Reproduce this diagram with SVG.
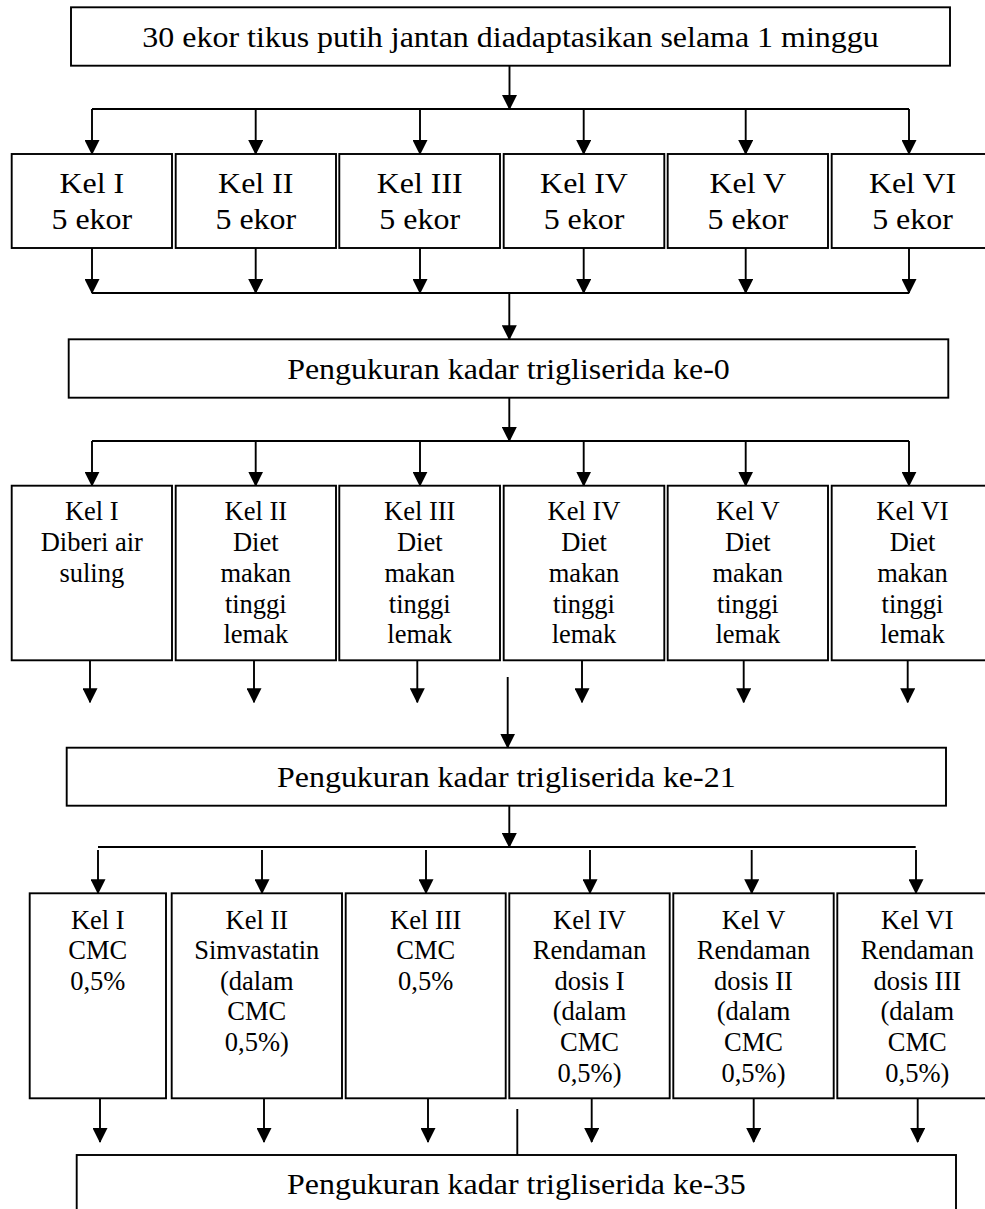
<svg xmlns="http://www.w3.org/2000/svg" width="985" height="1209" viewBox="0 0 985 1209">
<style>
.box{fill:#fff;stroke:#000;stroke-width:1.9}
.ln{fill:none;stroke:#000;stroke-width:1.9}
.ar{fill:none;stroke:#000;stroke-width:1.9;marker-end:url(#ah)}
text{font-family:"Liberation Serif","Times New Roman",serif;fill:#000;text-anchor:middle}
.t1{font-size:30px}
.t2{font-size:30px}
.t3{font-size:26.5px}
</style>
<defs>
<marker id="ah" viewBox="0 0 15 15" refX="14" refY="7.5" markerWidth="15" markerHeight="15" markerUnits="userSpaceOnUse" orient="auto">
<path d="M0,0 L15,7.5 L0,15 z" fill="#000"/>
</marker>
</defs>
<rect width="985" height="1209" fill="#fff"/>
<g id="connectors">
<line class="ar" x1="509.5" y1="66" x2="509.5" y2="109"/>
<line class="ln" x1="92" y1="109" x2="909" y2="109"/>
<line class="ar" x1="92" y1="109" x2="92" y2="154"/>
<line class="ar" x1="255.7" y1="109" x2="255.7" y2="154"/>
<line class="ar" x1="420" y1="109" x2="420" y2="154"/>
<line class="ar" x1="583.7" y1="109" x2="583.7" y2="154"/>
<line class="ar" x1="745.7" y1="109" x2="745.7" y2="154"/>
<line class="ar" x1="909" y1="109" x2="909" y2="154"/>
<line class="ar" x1="92" y1="248" x2="92" y2="293"/>
<line class="ar" x1="255.7" y1="248" x2="255.7" y2="293"/>
<line class="ar" x1="420" y1="248" x2="420" y2="293"/>
<line class="ar" x1="583.7" y1="248" x2="583.7" y2="293"/>
<line class="ar" x1="745.7" y1="248" x2="745.7" y2="293"/>
<line class="ar" x1="909" y1="248" x2="909" y2="293"/>
<line class="ln" x1="92" y1="293" x2="909" y2="293"/>
<line class="ar" x1="509.3" y1="293" x2="509.3" y2="339.3"/>
<line class="ar" x1="509.3" y1="398" x2="509.3" y2="441"/>
<line class="ln" x1="92" y1="441" x2="909" y2="441"/>
<line class="ar" x1="92" y1="441" x2="92" y2="485.7"/>
<line class="ar" x1="255.7" y1="441" x2="255.7" y2="485.7"/>
<line class="ar" x1="420" y1="441" x2="420" y2="485.7"/>
<line class="ar" x1="583.7" y1="441" x2="583.7" y2="485.7"/>
<line class="ar" x1="745.7" y1="441" x2="745.7" y2="485.7"/>
<line class="ar" x1="909" y1="441" x2="909" y2="485.7"/>
<line class="ar" x1="90" y1="660.3" x2="90" y2="702.3"/>
<line class="ar" x1="254" y1="660.3" x2="254" y2="702.3"/>
<line class="ar" x1="417.3" y1="660.3" x2="417.3" y2="702.3"/>
<line class="ar" x1="582" y1="660.3" x2="582" y2="702.3"/>
<line class="ar" x1="743.7" y1="660.3" x2="743.7" y2="702.3"/>
<line class="ar" x1="907.7" y1="660.3" x2="907.7" y2="702.3"/>
<line class="ar" x1="507.7" y1="677" x2="507.7" y2="747.7"/>
<line class="ar" x1="509.3" y1="805.7" x2="509.3" y2="847"/>
<line class="ln" x1="98" y1="847" x2="915.7" y2="847"/>
<line class="ar" x1="98" y1="850" x2="98" y2="893.3"/>
<line class="ar" x1="262" y1="850" x2="262" y2="893.3"/>
<line class="ar" x1="426" y1="850" x2="426" y2="893.3"/>
<line class="ar" x1="590" y1="850" x2="590" y2="893.3"/>
<line class="ar" x1="751.7" y1="850" x2="751.7" y2="893.3"/>
<line class="ar" x1="916" y1="850" x2="916" y2="893.3"/>
<line class="ar" x1="100" y1="1098.3" x2="100" y2="1142"/>
<line class="ar" x1="264" y1="1098.3" x2="264" y2="1142"/>
<line class="ar" x1="428" y1="1098.3" x2="428" y2="1142"/>
<line class="ar" x1="591.7" y1="1098.3" x2="591.7" y2="1142"/>
<line class="ar" x1="753.7" y1="1098.3" x2="753.7" y2="1142"/>
<line class="ar" x1="917.7" y1="1098.3" x2="917.7" y2="1142"/>
<line class="ln" x1="517.3" y1="1109" x2="517.3" y2="1155"/>
</g>
<g id="n-start">
<rect class="box" x="71" y="7.3" width="879" height="58.4"/>
<text class="t1" transform="translate(510.5 0) scale(1.065 1)" x="0" y="47">30 ekor tikus putih jantan diadaptasikan selama 1 minggu</text>
</g>
<g id="n-a1"><rect class="box" x="11.7" y="154" width="160.3" height="94"/><text class="t2" transform="translate(91.8 0) scale(1.065 1)"><tspan x="0" y="192.7">Kel I</tspan><tspan x="0" y="229">5 ekor</tspan></text></g>
<g id="n-a2"><rect class="box" x="175.7" y="154" width="160.3" height="94"/><text class="t2" transform="translate(255.8 0) scale(1.065 1)"><tspan x="0" y="192.7">Kel II</tspan><tspan x="0" y="229">5 ekor</tspan></text></g>
<g id="n-a3"><rect class="box" x="339.3" y="154" width="160.7" height="94"/><text class="t2" transform="translate(419.7 0) scale(1.065 1)"><tspan x="0" y="192.7">Kel III</tspan><tspan x="0" y="229">5 ekor</tspan></text></g>
<g id="n-a4"><rect class="box" x="503.7" y="154" width="160.6" height="94"/><text class="t2" transform="translate(584 0) scale(1.065 1)"><tspan x="0" y="192.7">Kel IV</tspan><tspan x="0" y="229">5 ekor</tspan></text></g>
<g id="n-a5"><rect class="box" x="667.7" y="154" width="160.3" height="94"/><text class="t2" transform="translate(747.8 0) scale(1.065 1)"><tspan x="0" y="192.7">Kel V</tspan><tspan x="0" y="229">5 ekor</tspan></text></g>
<g id="n-a6"><rect class="box" x="831.7" y="154" width="161" height="94"/><text class="t2" transform="translate(912.5 0) scale(1.065 1)"><tspan x="0" y="192.7">Kel VI</tspan><tspan x="0" y="229">5 ekor</tspan></text></g>
<g id="n-m0">
<rect class="box" x="68.7" y="339.3" width="879.6" height="58.4"/>
<text class="t2" transform="translate(508.5 0) scale(1.065 1)" x="0" y="379">Pengukuran kadar trigliserida ke-0</text>
</g>
<g id="n-b1"><rect class="box" x="11.7" y="485.7" width="160.3" height="174.6"/><text class="t3"><tspan x="91.8" y="520">Kel I</tspan><tspan x="91.8" y="550.7">Diberi air</tspan><tspan x="91.8" y="581.7">suling</tspan></text></g>
<g id="n-b2"><rect class="box" x="175.7" y="485.7" width="160.3" height="174.6"/><text class="t3"><tspan x="255.8" y="520">Kel II</tspan><tspan x="255.8" y="550.7">Diet</tspan><tspan x="255.8" y="581.7">makan</tspan><tspan x="255.8" y="612.7">tinggi</tspan><tspan x="255.8" y="642.7">lemak</tspan></text></g>
<g id="n-b3"><rect class="box" x="339.3" y="485.7" width="160.7" height="174.6"/><text class="t3"><tspan x="419.7" y="520">Kel III</tspan><tspan x="419.7" y="550.7">Diet</tspan><tspan x="419.7" y="581.7">makan</tspan><tspan x="419.7" y="612.7">tinggi</tspan><tspan x="419.7" y="642.7">lemak</tspan></text></g>
<g id="n-b4"><rect class="box" x="503.7" y="485.7" width="160.6" height="174.6"/><text class="t3"><tspan x="584" y="520">Kel IV</tspan><tspan x="584" y="550.7">Diet</tspan><tspan x="584" y="581.7">makan</tspan><tspan x="584" y="612.7">tinggi</tspan><tspan x="584" y="642.7">lemak</tspan></text></g>
<g id="n-b5"><rect class="box" x="667.7" y="485.7" width="160.3" height="174.6"/><text class="t3"><tspan x="747.8" y="520">Kel V</tspan><tspan x="747.8" y="550.7">Diet</tspan><tspan x="747.8" y="581.7">makan</tspan><tspan x="747.8" y="612.7">tinggi</tspan><tspan x="747.8" y="642.7">lemak</tspan></text></g>
<g id="n-b6"><rect class="box" x="831.7" y="485.7" width="161" height="174.6"/><text class="t3"><tspan x="912.5" y="520">Kel VI</tspan><tspan x="912.5" y="550.7">Diet</tspan><tspan x="912.5" y="581.7">makan</tspan><tspan x="912.5" y="612.7">tinggi</tspan><tspan x="912.5" y="642.7">lemak</tspan></text></g>
<g id="n-m21">
<rect class="box" x="66.7" y="747.7" width="879.3" height="58"/>
<text class="t2" transform="translate(506.3 0) scale(1.065 1)" x="0" y="787.3">Pengukuran kadar trigliserida ke-21</text>
</g>
<g id="n-c1"><rect class="box" x="29.7" y="893.3" width="136.3" height="205"/><text class="t3"><tspan x="97.8" y="929.3">Kel I</tspan><tspan x="97.8" y="959.3">CMC</tspan><tspan x="97.8" y="990">0,5%</tspan></text></g>
<g id="n-c2"><rect class="box" x="171.7" y="893.3" width="170.3" height="205"/><text class="t3"><tspan x="256.8" y="929.3">Kel II</tspan><tspan x="256.8" y="959.3">Simvastatin</tspan><tspan x="256.8" y="990">(dalam</tspan><tspan x="256.8" y="1020.3">CMC</tspan><tspan x="256.8" y="1050.7">0,5%)</tspan></text></g>
<g id="n-c3"><rect class="box" x="345.7" y="893.3" width="160" height="205"/><text class="t3"><tspan x="425.7" y="929.3">Kel III</tspan><tspan x="425.7" y="959.3">CMC</tspan><tspan x="425.7" y="990">0,5%</tspan></text></g>
<g id="n-c4"><rect class="box" x="509.3" y="893.3" width="160.4" height="205"/><text class="t3"><tspan x="589.5" y="929.3">Kel IV</tspan><tspan x="589.5" y="959.3">Rendaman</tspan><tspan x="589.5" y="990">dosis I</tspan><tspan x="589.5" y="1020.3">(dalam</tspan><tspan x="589.5" y="1050.7">CMC</tspan><tspan x="589.5" y="1081.7">0,5%)</tspan></text></g>
<g id="n-c5"><rect class="box" x="673.3" y="893.3" width="160.4" height="205"/><text class="t3"><tspan x="753.5" y="929.3">Kel V</tspan><tspan x="753.5" y="959.3">Rendaman</tspan><tspan x="753.5" y="990">dosis II</tspan><tspan x="753.5" y="1020.3">(dalam</tspan><tspan x="753.5" y="1050.7">CMC</tspan><tspan x="753.5" y="1081.7">0,5%)</tspan></text></g>
<g id="n-c6"><rect class="box" x="837.3" y="893.3" width="160" height="205"/><text class="t3"><tspan x="917.3" y="929.3">Kel VI</tspan><tspan x="917.3" y="959.3">Rendaman</tspan><tspan x="917.3" y="990">dosis III</tspan><tspan x="917.3" y="1020.3">(dalam</tspan><tspan x="917.3" y="1050.7">CMC</tspan><tspan x="917.3" y="1081.7">0,5%)</tspan></text></g>
<g id="n-m35">
<rect class="box" x="76.7" y="1155" width="879.3" height="70"/>
<text class="t2" transform="translate(516.3 0) scale(1.065 1)" x="0" y="1194.3">Pengukuran kadar trigliserida ke-35</text>
</g>
</svg>
